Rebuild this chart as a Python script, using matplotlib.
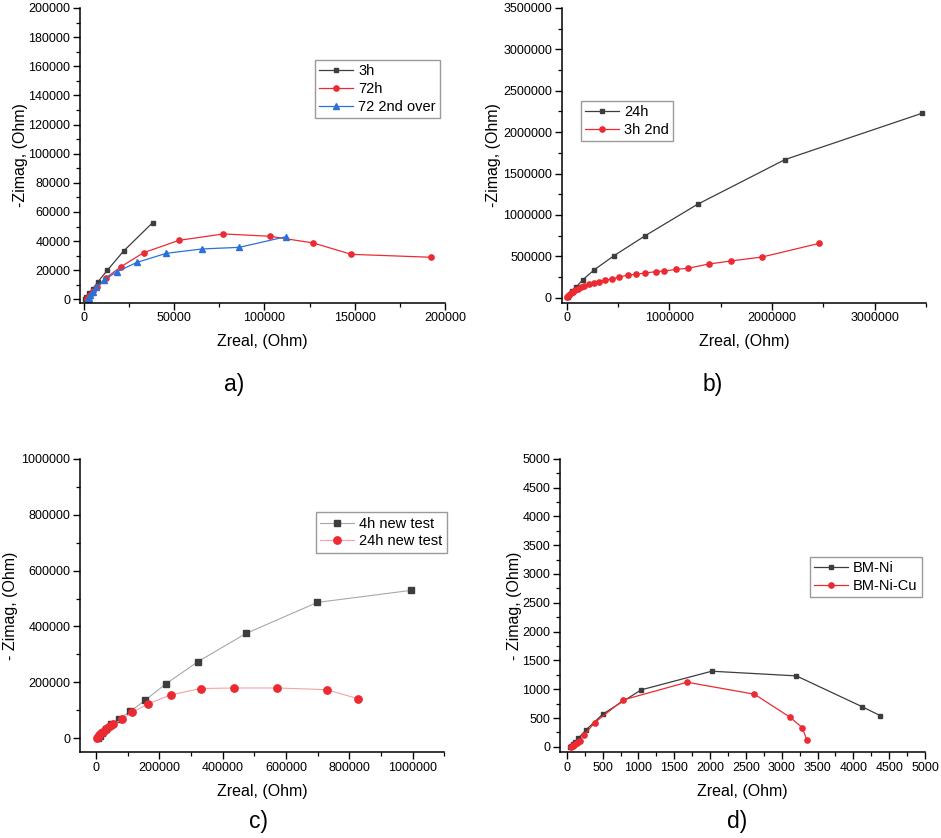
import matplotlib
matplotlib.use("Agg")
import matplotlib.pyplot as plt
from matplotlib.ticker import MultipleLocator, ScalarFormatter

plt.rcParams['font.family'] = ['Liberation Sans', 'DejaVu Sans']

# ---------------- data ----------------
# panel a
a_3h_x = [300, 1100, 2800, 4800, 7800, 12900, 22000, 38000]
a_3h_y = [200, 1600, 4100, 7100, 12100, 19900, 33200, 52600]
a_72h_x = [1800, 2500, 3500, 5000, 7200, 12400, 20500, 33000, 52600, 77200, 103000, 127000, 148100, 192200]
a_72h_y = [500, 1500, 3200, 5500, 8250, 14900, 22400, 32000, 40500, 44900, 43300, 38700, 30900, 28900]
a_72b_x = [2300, 2800, 3500, 4800, 6800, 11200, 18300, 29400, 45600, 65500, 86000, 111900]
a_72b_y = [300, 1200, 2800, 5000, 8250, 13300, 19000, 25400, 31600, 34600, 35700, 43000]

# panel b
b_24h_x = [3000, 8000, 26000, 55000, 91000, 156000, 269000, 460000, 765000, 1274000, 2126000, 3465000]
b_24h_y = [3000, 10000, 36000, 77000, 129000, 218000, 339000, 508000, 750000, 1129000, 1669000, 2230000]
b_3h2_x = [5000, 10000, 22000, 39000, 58000, 84000, 110000, 136000, 171000, 214000, 263000, 311000,
           370000, 438000, 512000, 596000, 677000, 765000, 866000, 950000, 1066000, 1177000,
           1381000, 1598000, 1903000, 2460000]
b_3h2_y = [3000, 17000, 33000, 53000, 69000, 89000, 109000, 126000, 141000, 162000, 181000, 194000,
           210000, 226000, 250000, 274000, 283000, 299000, 315000, 323000, 343000, 355000,
           407000, 444000, 492000, 657000]

# panel c
c_4h_x = [8000, 12000, 20000, 33400, 48300, 74500, 109100, 156500, 221800, 322000, 474000, 699000, 994000]
c_4h_y = [1000, 8000, 20000, 34300, 51000, 70100, 96500, 137000, 195200, 274000, 375000, 486000, 529000]
c_24h_x = [4100, 7300, 11400, 15800, 22100, 29300, 36600, 45100, 55600, 82000, 114500, 166000, 237500,
           331000, 435000, 573000, 729000, 826000]
c_24h_y = [0, 5700, 10700, 17900, 22500, 29700, 37900, 44000, 50000, 67900, 93000, 123700, 155900,
           178000, 180000, 180000, 174000, 142000]

# panel d
d_ni_x = [40, 56, 84, 116, 162, 269, 502, 1037, 2023, 3205, 4126, 4372]
d_ni_y = [5, 17, 52, 92, 151, 295, 567, 988, 1312, 1231, 694, 543]
d_cu_x = [60, 70, 85, 100, 120, 140, 160, 181, 242, 391, 790, 1679, 2619, 3116, 3284, 3353]
d_cu_y = [3, 10, 20, 30, 45, 60, 80, 104, 206, 421, 815, 1121, 913, 514, 335, 116]

GRAY = '#3d3d3d'
RED = '#ec2a32'
BLUE = '#2a72d8'

W, H = 941, 838
fig = plt.figure(figsize=(W / 100, H / 100), dpi=100)


def add_ax(l, r, t, b):
    return fig.add_axes([l / W, 1 - b / H, (r - l) / W, (b - t) / H])


def style(ax, xlim, ylim, xmaj, ymaj, ylabel, ypad):
    ax.set_xlim(*xlim)
    ax.set_ylim(*ylim)
    ax.xaxis.set_major_locator(MultipleLocator(xmaj))
    ax.xaxis.set_minor_locator(MultipleLocator(xmaj / 2))
    ax.yaxis.set_major_locator(MultipleLocator(ymaj))
    ax.yaxis.set_minor_locator(MultipleLocator(ymaj / 2))
    for axis in (ax.xaxis, ax.yaxis):
        f = ScalarFormatter(useOffset=False)
        f.set_scientific(False)
        axis.set_major_formatter(f)
    ax.spines['top'].set_visible(False)
    ax.spines['right'].set_visible(False)
    ax.spines['left'].set_linewidth(1.1)
    ax.spines['bottom'].set_linewidth(1.1)
    ax.tick_params(which='major', direction='out', length=5, width=1.0, labelsize=9, pad=2, colors='black')
    ax.tick_params(which='minor', direction='out', length=2.8, width=0.9)
    ax.set_xlabel('Zreal, (Ohm)', fontsize=11.5, labelpad=7)
    ax.set_ylabel(ylabel, fontsize=11.5, labelpad=ypad)


def legend(ax, loc, fs=10.5):
    lg = ax.legend(loc='upper left', bbox_to_anchor=loc, frameon=True, fancybox=False,
                   edgecolor='#9a9a9a', fontsize=fs, handlelength=2.3, handletextpad=0.35,
                   borderpad=0.3, labelspacing=0.25, borderaxespad=0, framealpha=1)
    lg.get_frame().set_linewidth(1.0)
    return lg


# panel a
ax = add_ax(80, 445, 8, 302.7)
ax.plot(a_3h_x, a_3h_y, '-s', color=GRAY, lw=0.9, ms=3.4, label='3h')
ax.plot(a_72h_x, a_72h_y, '-o', color=RED, lw=0.9, ms=3.8, label='72h')
ax.plot(a_72b_x, a_72b_y, '-^', color=BLUE, lw=0.9, ms=4.0, label='72 2nd over')
style(ax, (-2200, 200000), (-2300, 200000), 50000, 20000, '-Zimag, (Ohm)', 0)
legend(ax, ((315 - 80) / 365, (302.7 - 60) / 294.7))
fig.text(234 / W, 1 - 384 / H, 'a)', fontsize=16.5, ha='center', va='center')

# panel b
ax = add_ax(561.7, 926, 8, 302.7)
ax.plot(b_24h_x, b_24h_y, '-s', color=GRAY, lw=0.9, ms=3.4, label='24h')
ax.plot(b_3h2_x, b_3h2_y, '-o', color=RED, lw=0.9, ms=3.8, label='3h 2nd')
style(ax, (-50000, 3500000), (-60000, 3500000), 1000000, 500000, '-Zimag, (Ohm)', 1.5)
legend(ax, ((581 - 561.7) / 364.3, (302.7 - 100.7) / 294.7))
fig.text(713 / W, 1 - 384 / H, 'b)', fontsize=16.5, ha='center', va='center')

# panel c
ax = add_ax(80, 444.3, 458.7, 752.3)
ax.plot(c_4h_x, c_4h_y, '-s', color='#a8a8a8', mfc=GRAY, mec=GRAY, lw=0.8, ms=4.8, label='4h new test')
ax.plot(c_24h_x, c_24h_y, '-o', color='#f3a3a6', mfc=RED, mec=RED, lw=0.8, ms=5.3, label='24h new test')
style(ax, (-50000, 1100000), (-50000, 1000000), 200000, 200000, '- Zimag, (Ohm)', 2.3)
legend(ax, ((316 - 80) / 364.3, (752.3 - 512.3) / 293.6))
fig.text(258 / W, 1 - 821 / H, 'c)', fontsize=16.5, ha='center', va='center')

# panel d
ax = add_ax(560, 925, 458.7, 752.3)
ax.plot(d_ni_x, d_ni_y, '-s', color=GRAY, lw=0.9, ms=3.4, label='BM-Ni')
ax.plot(d_cu_x, d_cu_y, '-o', color=RED, lw=0.9, ms=3.8, label='BM-Ni-Cu')
style(ax, (-95, 5000), (-95, 5000), 500, 500, '- Zimag, (Ohm)', 0.5)
legend(ax, ((810 - 560) / 365, (752.3 - 557) / 293.6))
fig.text(737 / W, 1 - 821 / H, 'd)', fontsize=16.5, ha='center', va='center')

fig.savefig('out.png', dpi=100, facecolor='white')
